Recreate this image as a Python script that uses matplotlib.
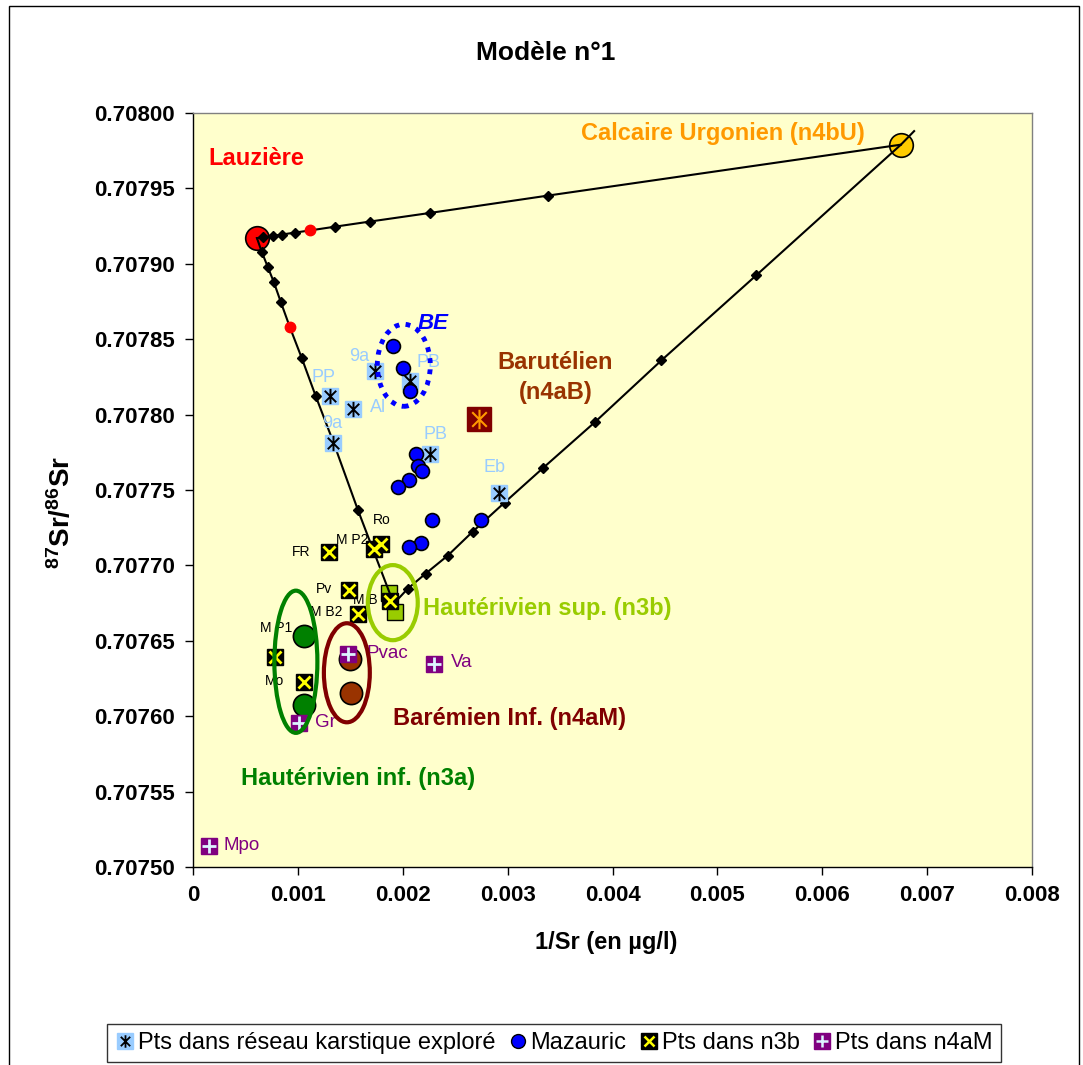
import matplotlib
matplotlib.use('Agg')
import matplotlib.pyplot as plt
from matplotlib.patches import Ellipse, Rectangle
from matplotlib.path import Path
from matplotlib.lines import Line2D

plt.rcParams['font.family'] = ['Liberation Sans', 'DejaVu Sans']
plt.rcParams['mathtext.fontset'] = 'custom'
plt.rcParams['mathtext.rm'] = 'Liberation Sans'
plt.rcParams['mathtext.bf'] = 'Liberation Sans:bold'

# ---------------- data ----------------
x_ticks = [0, 0.001, 0.002, 0.003, 0.004, 0.005, 0.006, 0.007, 0.008]
x_tick_labels = ['0', '0.001', '0.002', '0.003', '0.004', '0.005', '0.006', '0.007', '0.008']
y_ticks = [0.70750, 0.70755, 0.70760, 0.70765, 0.70770, 0.70775, 0.70780, 0.70785,
           0.70790, 0.70795, 0.70800]
y_tick_labels = ['0.70750', '0.70755', '0.70760', '0.70765', '0.70770', '0.70775',
                 '0.70780', '0.70785', '0.70790', '0.70795', '0.70800']

# end-members
lauz_x, lauz_y = [0.00061], [0.707917]
urg_x, urg_y = [0.00675], [0.707979]
barut_x, barut_y = [0.002724], [0.707797]
n3b_x = [0.001867, 0.001924]
n3b_y = [0.707682, 0.7076693]
n3a_x = [0.001057, 0.001057]
n3a_y = [0.7076534, 0.7076076]
n4am_x = [0.001495, 0.001505]
n4am_y = [0.7076381, 0.7076155]

# mixing lines (10 % steps)
mixA_x = [0.00061, 0.000667, 0.000762, 0.000848, 0.000971, 0.001114, 0.001352, 0.001686,
          0.002257, 0.003381, 0.00675]
mixA_y = [0.707917, 0.7079176, 0.7079185, 0.7079194, 0.7079207, 0.7079221, 0.7079246,
          0.707928, 0.7079337, 0.7079452, 0.707979]
mixB_x = [0.00061, 0.000657, 0.000714, 0.000771, 0.000838, 0.000924, 0.001038, 0.001171,
          0.001343, 0.001571, 0.001914]
mixB_y = [0.707917, 0.7079077, 0.7078977, 0.7078878, 0.7078745, 0.7078579, 0.7078373,
          0.7078121, 0.7077809, 0.707737, 0.7076746]
mixC_x = [0.001914, 0.002048, 0.002219, 0.002429, 0.002667, 0.002971, 0.003333, 0.003829,
          0.004467, 0.005371, 0.00675, 0.006876]
mixC_y = [0.7076746, 0.7076846, 0.7076946, 0.7077065, 0.7077224, 0.7077417, 0.7077643,
          0.7077948, 0.707836, 0.7078924, 0.707979, 0.707988]
mid_x = [0.001114, 0.000924]
mid_y = [0.7079221, 0.7078579]

# Pts dans réseau karstique exploré
karst_names = ['9a', 'PB', 'PP', 'Al', '9a', 'PB', 'Eb']
karst_x = [0.001733, 0.002067, 0.001305, 0.001524, 0.001333, 0.002257, 0.002914]
karst_y = [0.7078287, 0.707822, 0.7078121, 0.7078035, 0.7077809, 0.7077736, 0.7077477]

# Mazauric
maz_x = [0.001905, 0.002000, 0.002067, 0.002124, 0.002143, 0.002181, 0.002057, 0.001952,
         0.002276, 0.002743, 0.002171, 0.002057]
maz_y = [0.7078453, 0.7078307, 0.7078154, 0.7077736, 0.7077656, 0.7077623, 0.7077563,
         0.7077523, 0.7077304, 0.7077304, 0.7077151, 0.7077125]

# Pts dans n3b
n3bpts_x = [0.001295, 0.001724, 0.001790, 0.001486, 0.001876, 0.001571, 0.000781, 0.001057]
n3bpts_y = [0.7077092, 0.7077112, 0.7077145, 0.7076839, 0.7076766, 0.707668, 0.7076394,
            0.7076228]
n3b_names = ['FR', 'M P2', 'Ro', 'Pv', 'M B 1', 'M B2', 'M P1', 'Mo']

# Pts dans n4aM
n4pts_names = ['Pvac', 'Va', 'Gr', 'Mpo']
n4pts_x = [0.001476, 0.002295, 0.001010, 0.000152]
n4pts_y = [0.7076414, 0.7076348, 0.7075956, 0.707514]

legend_labels = ['Pts dans réseau karstique exploré', 'Mazauric', 'Pts dans n3b',
                 'Pts dans n4aM']

# ---------------- figure ----------------
W, H = 1083, 1065
fig = plt.figure(figsize=(W / 100, H / 100), dpi=100)
fig.patch.set_facecolor('white')
ax = fig.add_axes([193 / W, 1 - 867 / H, (1032 - 193) / W, (867 - 113) / H])
ax.set_facecolor('#FFFFCC')
ax.set_xlim(0, 0.008)
ax.set_ylim(0.7075, 0.708)

# outer chart border
fig.patches.append(Rectangle((9 / W, -0.02), (1079 - 9) / W, 1.02 - 6 / H,
                             transform=fig.transFigure, fill=False, edgecolor='black',
                             linewidth=1))

# asterisk marker (vertical + X)
star = Path([(0, -1), (0, 1), (-0.75, -0.75), (0.75, 0.75), (-0.75, 0.75), (0.75, -0.75)],
            [Path.MOVETO, Path.LINETO] * 3)

# end-member big markers
ax.plot(lauz_x, lauz_y, 'o', ms=17, mfc='#FF0000', mec='black', mew=1.2, zorder=2)
ax.plot(urg_x, urg_y, 'o', ms=17, mfc='#FFCC00', mec='black', mew=1.2, zorder=2)
ax.plot(n3b_x, n3b_y, 's', ms=12, mfc='#99CC00', mec='black', mew=1, zorder=2)
ax.plot(n3a_x, n3a_y, 'o', ms=16, mfc='#008000', mec='black', mew=1.2, zorder=2)
ax.plot(n4am_x, n4am_y, 'o', ms=16, mfc='#993300', mec='black', mew=1.2, zorder=2)
ax.plot(barut_x, barut_y, 's', ms=17, mfc='#800000', mec='#800000', zorder=4)
ax.plot(barut_x, barut_y, marker=star, ms=14, color='#FF9900', mew=1.5, ls='none', zorder=4.1)

# mixing lines
for mx, my in [(mixA_x, mixA_y), (mixB_x, mixB_y)]:
    ax.plot(mx, my, '-', color='black', lw=1.5, marker='D', ms=5, mfc='black', mec='black',
            markevery=list(range(1, len(mx) - 1)), zorder=3)
ax.plot(mixC_x, mixC_y, '-', color='black', lw=1.5, marker='D', ms=5, mfc='black',
        mec='black', markevery=list(range(1, len(mixC_x) - 2)), zorder=3)
ax.plot(mid_x, mid_y, 'o', ms=7.5, mfc='#FF0000', mec='#FF0000', zorder=3.5)

# series
ax.plot(karst_x, karst_y, 's', ms=12, mfc='#99CCFF', mec='#99CCFF', zorder=5)
ax.plot(karst_x, karst_y, marker=star, ms=11, color='black', mew=1.4, ls='none', zorder=5.1)
ax.plot(maz_x, maz_y, 'o', ms=10, mfc='#0000FF', mec='black', mew=1.2, zorder=6)
ax.plot(n3bpts_x, n3bpts_y, 's', ms=12, mfc='black', mec='black', zorder=7)
ax.plot(n3bpts_x, n3bpts_y, 'x', ms=8, color='#FFFF00', mew=2, zorder=7.1)
ax.plot(n4pts_x, n4pts_y, 's', ms=12, mfc='#800080', mec='#800080', zorder=8)
ax.plot(n4pts_x, n4pts_y, '+', ms=10, color='#DDF4FF', mew=2, zorder=8.1)

# ellipses
ax.add_patch(Ellipse((0.000981, 0.7076361), 0.00041, 0.0000943, fill=False,
                     edgecolor='#008000', lw=3, zorder=9))
ax.add_patch(Ellipse((0.001467, 0.7076288), 0.000438, 0.0000657, fill=False,
                     edgecolor='#800000', lw=3, zorder=9))
ax.add_patch(Ellipse((0.001905, 0.7076753), 0.000476, 0.0000498, fill=False,
                     edgecolor='#99CC00', lw=3, zorder=9))
ax.add_patch(Ellipse((0.00201, 0.7078327), 0.000505, 0.0000544, fill=False,
                     edgecolor='#0000FF', lw=3.5, ls=(0, (1, 1.3)), zorder=9))

# point labels
lb_blue = '#99CCFF'
karst_lab_pos = [(0.001581, 0.7078387), (0.002248, 0.7078347), (0.001248, 0.7078247),
                 (0.001762, 0.7078048), (0.001324, 0.7077942), (0.002314, 0.7077869),
                 (0.002876, 0.7077649)]
for name, (tx, ty) in zip(karst_names, karst_lab_pos):
    ax.text(tx, ty, name, color=lb_blue, fontsize=13, ha='center', va='center', zorder=4.5)

n3b_lab_pos = [(0.001029, 0.7077092), (0.001514, 0.7077171), (0.0018, 0.7077304),
               (0.001248, 0.7076846), (0.001695, 0.7076773), (0.001267, 0.7076693),
               (0.00079, 0.7076587), (0.000781, 0.7076235)]
for name, (tx, ty) in zip(n3b_names, n3b_lab_pos):
    ax.text(tx, ty, name, color='black', fontsize=10, ha='center', va='center', zorder=1.5)

n4_lab_pos = [(0.001857, 0.7076414), (0.002562, 0.7076355), (0.001267, 0.7075956),
              (0.000467, 0.707514)]
for name, (tx, ty) in zip(n4pts_names, n4_lab_pos):
    ax.text(tx, ty, name, color='#800080', fontsize=13.5, ha='center', va='center', zorder=8.5)

# group labels
gfs = 17
ax.text(0.0006, 0.70797, 'Lauzière', color='#FF0000', fontsize=gfs, fontweight='bold',
        ha='center', va='center', zorder=11)
ax.text(0.005048, 0.7079867, 'Calcaire Urgonien (n4bU)', color='#FF9900', fontsize=gfs,
        fontweight='bold', ha='center', va='center', zorder=11)
ax.text(0.002286, 0.7078606, 'BE', color='#0000FF', fontsize=16, fontweight='bold',
        fontstyle='italic', ha='center', va='center', zorder=11)
ax.text(0.003457, 0.7078247, 'Barutélien\n(n4aB)', color='#993300', fontsize=gfs,
        fontweight='bold', ha='center', va='center', linespacing=1.4, zorder=11)
ax.text(0.00219, 0.7076713, 'Hautérivien sup. (n3b)', color='#99CC00', fontsize=gfs,
        fontweight='bold', ha='left', va='center', zorder=11)
ax.text(0.001905, 0.7075983, 'Barémien Inf. (n4aM)', color='#800000', fontsize=gfs,
        fontweight='bold', ha='left', va='center', zorder=11)
ax.text(0.000457, 0.7075584, 'Hautérivien inf. (n3a)', color='#008000', fontsize=gfs,
        fontweight='bold', ha='left', va='center', zorder=11)

# axes styling
ax.set_xticks(x_ticks)
ax.set_xticklabels(x_tick_labels)
ax.set_yticks(y_ticks)
ax.set_yticklabels(y_tick_labels)
ax.tick_params(direction='out', length=6, width=1, colors='black', labelsize=16, pad=7)
for lab in ax.get_xticklabels() + ax.get_yticklabels():
    lab.set_fontweight('bold')
for side in ['top', 'right']:
    ax.spines[side].set_color('#808080')
for side in ['left', 'bottom']:
    ax.spines[side].set_color('black')
for s in ax.spines.values():
    s.set_linewidth(1)

fig.text(546 / W, 1 - 53 / H, 'Modèle n°1', fontsize=19, fontweight='bold',
         ha='center', va='center')
fig.text(606 / W, 1 - 943 / H, '1/Sr (en µg/l)', fontsize=17, fontweight='bold',
         ha='center', va='center')
fig.text(62 / W, 1 - 512 / H, r'$\mathbf{^{87}Sr/^{86}Sr}$', fontsize=20, rotation=90,
         ha='center', va='center')

# legend
h1 = (Line2D([], [], marker='s', ls='none', ms=11, mfc='#99CCFF', mec='#99CCFF'),
      Line2D([], [], marker=star, ls='none', ms=9, color='black', mew=1.3))
h2 = Line2D([], [], marker='o', ls='none', ms=10, mfc='#0000FF', mec='black', mew=1)
h3 = (Line2D([], [], marker='s', ls='none', ms=11, mfc='black', mec='black'),
      Line2D([], [], marker='x', ls='none', ms=7, color='#FFFF00', mew=1.8))
h4 = (Line2D([], [], marker='s', ls='none', ms=11, mfc='#800080', mec='#800080'),
      Line2D([], [], marker='+', ls='none', ms=9, color='#DDF4FF', mew=1.8))
leg = fig.legend([h1, h2, h3, h4], legend_labels, loc='center',
                 bbox_to_anchor=(554 / W, 1 - 1043 / H), ncol=4, frameon=True,
                 fancybox=False, edgecolor='black', fontsize=17, handlelength=0.8,
                 handletextpad=0.15, columnspacing=0.55, borderpad=0.35,
                 borderaxespad=0)
leg.get_frame().set_linewidth(1)

fig.savefig('out.png', dpi=100, facecolor='white')
